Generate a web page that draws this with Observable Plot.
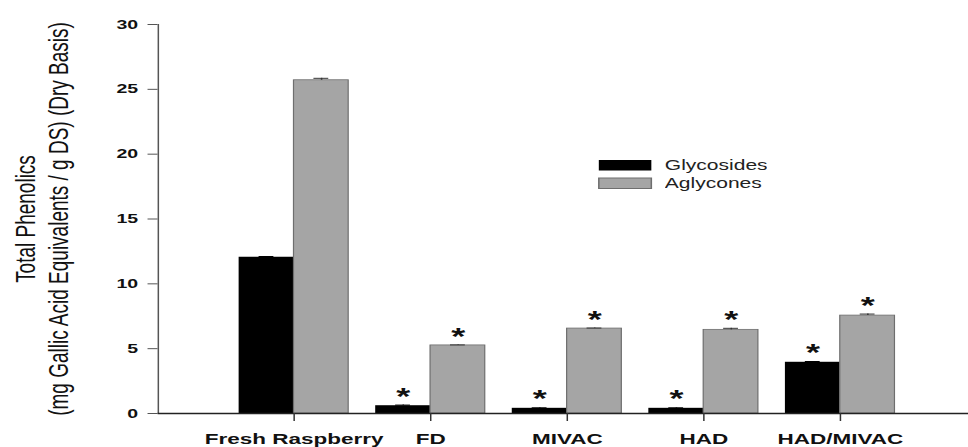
<!DOCTYPE html>
<html><head><meta charset="utf-8">
<script src="https://cdn.jsdelivr.net/npm/d3@7"></script>
<script src="https://cdn.jsdelivr.net/npm/@observablehq/plot@0.6"></script>
<style>
html,body{margin:0;padding:0;background:#fff;overflow:hidden;}
#wrap{position:relative;width:645px;height:447px;transform:scale(1.50078,1);transform-origin:0 0;}
#legend{position:absolute;left:399px;top:156px;}
.lg-swatches{font-family:"Liberation Sans",Arial,sans-serif !important;font-size:14px !important;color:#222 !important;margin:0 !important;}
.lg-swatch{display:flex !important;align-items:center !important;height:18px !important;padding:0 !important;margin:0 !important;font-size:14px !important;}
.lg-swatch-label{font-size:14px !important;}
.lg-swatch > svg{margin-right:9px !important;overflow:visible !important;}
.lg-swatch:last-child svg rect{stroke:#6e6e6e;stroke-width:1px;}
</style></head>
<body><div id="wrap"><div id="chart"></div><div id="legend"></div></div>
<script>
const categories = ["Fresh Raspberry", "FD", "MIVAC", "HAD", "HAD/MIVAC"];
const series = ["Glycosides", "Aglycones"];
const glycosides = [12.05, 0.6, 0.4, 0.4, 3.95];
const aglycones = [25.7, 5.25, 6.55, 6.45, 7.55];
const glycosidesErr = [0.06, 0.05, 0.04, 0.04, 0.06];
const aglyconesErr = [0.15, 0.04, 0.04, 0.12, 0.12];
const glycosidesSig = [false, true, true, true, true];
const aglyconesSig = [false, true, true, true, true];
const yTicks = [0, 5, 10, 15, 20, 25, 30];
const yLabel = "Total Phenolics\n(mg Gallic Acid Equivalents / g DS) (Dry Basis)";
const colors = ["#000000", "#a5a5a5"];

const glyRows = categories.map((c, i) => ({cat: c, series: series[0], value: glycosides[i], err: glycosidesErr[i], sig: glycosidesSig[i]}));
const aglRows = categories.map((c, i) => ({cat: c, series: series[1], value: aglycones[i], err: aglyconesErr[i], sig: aglyconesSig[i]}));

const xRange = [148.7, 605.7];
const padIn = 0.2, padOut = 0.1;
const bw = d3.scaleBand().domain(categories).range(xRange).paddingInner(padIn).paddingOuter(padOut).bandwidth();
const capHalf = 5;
const starDy = -8;

const chart = Plot.plot({
  width: 645,
  height: 447,
  marginLeft: 105,
  marginRight: 0,
  marginTop: 24,
  marginBottom: 34,
  style: {fontFamily: "Liberation Sans, Arial, sans-serif", fontSize: "13px", background: "white", color: "#111"},
  x: {type: "band", domain: categories, range: xRange, paddingInner: padIn, paddingOuter: padOut},
  y: {domain: [0, 30]},
  color: {domain: series, range: colors},
  marks: [
    Plot.barY(glyRows, {x: "cat", y: "value", fill: "series", insetRight: bw / 2}),
    Plot.barY(aglRows, {x: "cat", y: "value", fill: "series", stroke: "#6e6e6e", strokeWidth: 0.8, insetLeft: bw / 2}),
    Plot.ruleX(glyRows, {x: "cat", y1: "value", y2: d => d.value + d.err, dx: -bw / 4, stroke: "#000"}),
    Plot.ruleX(aglRows, {x: "cat", y1: "value", y2: d => d.value + d.err, dx: bw / 4, stroke: "#333"}),
    Plot.tickY(glyRows, {x: "cat", y: d => d.value + d.err, insetLeft: bw / 4 - capHalf, insetRight: 3 * bw / 4 - capHalf, stroke: "#000"}),
    Plot.tickY(aglRows, {x: "cat", y: d => d.value + d.err, insetLeft: 3 * bw / 4 - capHalf, insetRight: bw / 4 - capHalf, stroke: "#333"}),
    Plot.text(glyRows.filter(d => d.sig), {x: "cat", y: d => d.value + d.err, text: () => "*", dx: -bw / 4, dy: starDy, fontSize: 24, fontWeight: "bold", fill: "#111"}),
    Plot.text(aglRows.filter(d => d.sig), {x: "cat", y: d => d.value + d.err, text: () => "*", dx: bw / 4, dy: starDy, fontSize: 24, fontWeight: "bold", fill: "#111"}),
    Plot.frame({anchor: "left", stroke: "#555", strokeWidth: 1}),
    Plot.ruleY([0], {stroke: "#222", strokeWidth: 1.6}),
    Plot.axisY({ticks: yTicks, tickSize: 6.7, tickPadding: 6.7, fontSize: 13, fontWeight: "bold", stroke: "#555", fill: "#111", label: null}),
    Plot.axisX({tickSize: 8, tickPadding: 12, fontSize: 15, fontWeight: "bold", stroke: "#333", fill: "#111", label: null}),
    Plot.text([yLabel], {frameAnchor: "left", textAnchor: "middle", rotate: -90, dx: -78.1, fontSize: 19, lineHeight: 1.15, fill: "#111"})
  ]
});
document.getElementById("chart").appendChild(chart);

const legend = Plot.legend({
  color: {domain: series, range: colors},
  legend: "swatches",
  swatchWidth: 35,
  swatchHeight: 10.5,
  columns: 1,
  className: "lg",
  style: {fontSize: "14px", fontFamily: "Liberation Sans, Arial, sans-serif", color: "#222"}
});
document.getElementById("legend").appendChild(legend);
</script></body></html>
